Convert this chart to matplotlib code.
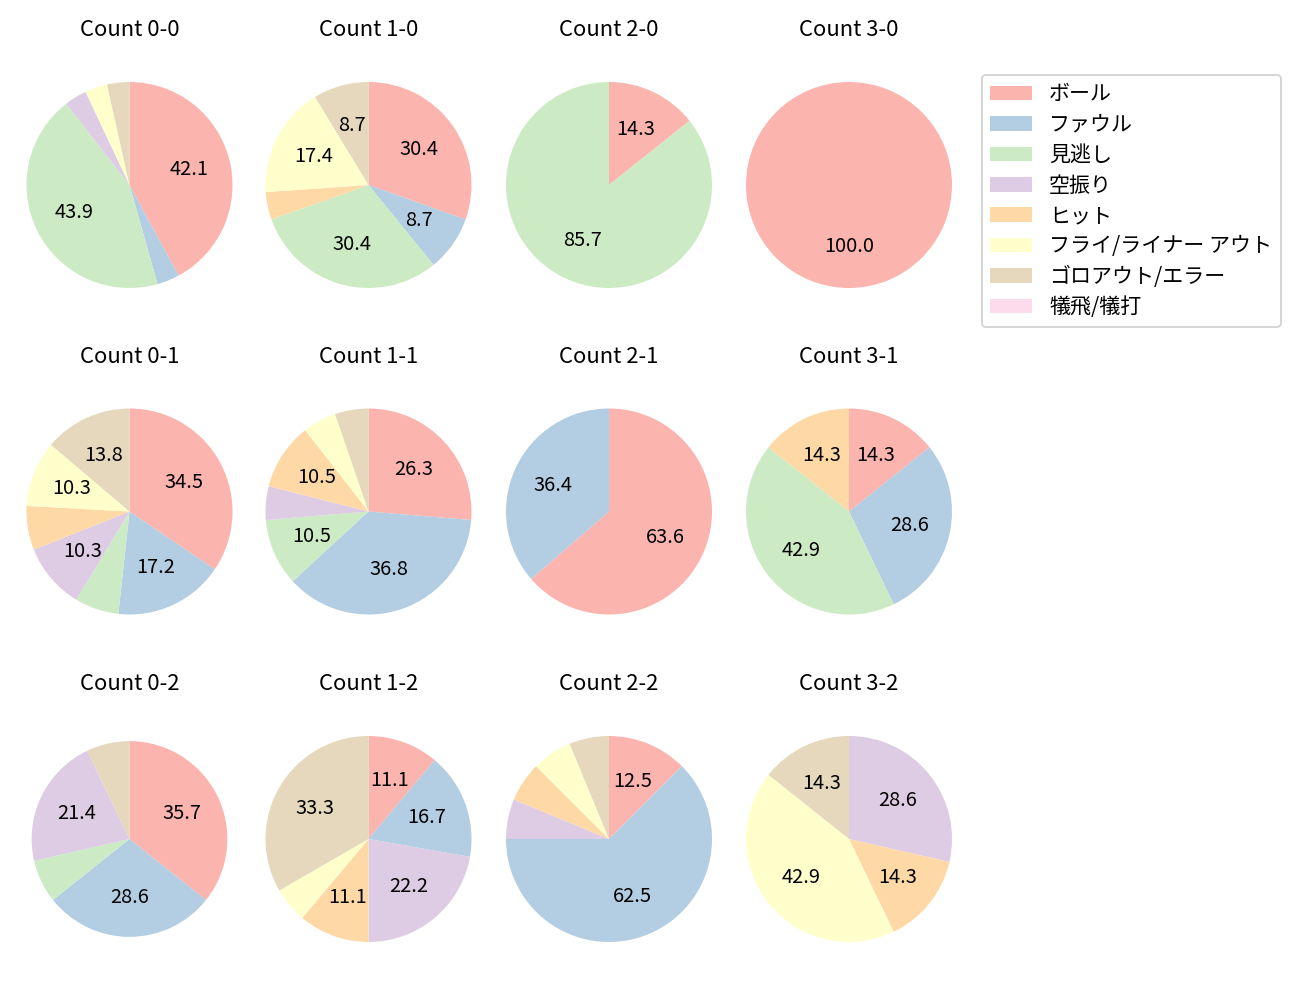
import matplotlib
matplotlib.use("Agg")
import matplotlib.pyplot as plt
from matplotlib.patches import Patch

plt.rcParams['font.family'] = ['Noto Sans CJK JP', 'DejaVu Sans']

categories = ['ボール', 'ファウル', '見逃し', '空振り', 'ヒット',
              'フライ/ライナー アウト', 'ゴロアウト/エラー', '犠飛/犠打']
colors = ['#fbb4ae', '#b3cde3', '#ccebc5', '#decbe4', '#fed9a6',
          '#ffffcc', '#e5d8bd', '#fddaec']

# counts per pitch result, order as categories
count_0_0 = [24, 2, 25, 2, 0, 2, 2, 0]
count_1_0 = [7, 2, 7, 0, 1, 4, 2, 0]
count_2_0 = [1, 0, 6, 0, 0, 0, 0, 0]
count_3_0 = [1, 0, 0, 0, 0, 0, 0, 0]
count_0_1 = [10, 5, 2, 3, 2, 3, 4, 0]
count_1_1 = [5, 7, 2, 1, 2, 1, 1, 0]
count_2_1 = [7, 4, 0, 0, 0, 0, 0, 0]
count_3_1 = [1, 2, 3, 0, 1, 0, 0, 0]
count_0_2 = [5, 4, 1, 3, 0, 0, 1, 0]
count_1_2 = [2, 3, 0, 4, 2, 1, 6, 0]
count_2_2 = [2, 10, 0, 1, 1, 1, 1, 0]
count_3_2 = [0, 0, 0, 2, 1, 3, 1, 0]

titles = ['Count 0-0', 'Count 1-0', 'Count 2-0', 'Count 3-0',
          'Count 0-1', 'Count 1-1', 'Count 2-1', 'Count 3-1',
          'Count 0-2', 'Count 1-2', 'Count 2-2', 'Count 3-2']
data = [count_0_0, count_1_0, count_2_0, count_3_0,
        count_0_1, count_1_1, count_2_1, count_3_1,
        count_0_2, count_1_2, count_2_2, count_3_2]

W, H = 1300, 1000
DPI = 144
fig = plt.figure(figsize=(W / DPI, H / DPI), dpi=DPI)

col_cx = [129.5, 368.5, 609, 849]
row_cy = [185, 511.5, 839]
R = 103
LIM = 1.25
side = 2 * LIM * R
pie_radius = [1.0] * 12
pie_radius[8] = 0.95

for i, (vals, title) in enumerate(zip(data, titles)):
    r, c = divmod(i, 4)
    cx, cy = col_cx[c], row_cy[r]
    ax = fig.add_axes([(cx - side / 2) / W, 1 - (cy + side / 2) / H, side / W, side / H])
    ax.pie(vals, colors=colors, startangle=90, counterclock=False,
           radius=pie_radius[i],
           autopct=lambda p: f'{p:.1f}' if p >= 8 else '',
           pctdistance=0.6, textprops={'fontsize': 10})
    ax.set_xlim(-LIM, LIM)
    ax.set_ylim(-LIM, LIM)
    ax.set_aspect('equal')
    ax.set_title(title, fontsize=11, pad=10)

handles = [Patch(facecolor=col, label=lab) for col, lab in zip(colors, categories)]
fig.legend(handles=handles, loc='upper left', bbox_to_anchor=(982 / W, 1 - 75 / H),
           borderaxespad=0, fontsize=10.5, labelspacing=0.4, frameon=True)

fig.savefig('out.png', dpi=DPI)
